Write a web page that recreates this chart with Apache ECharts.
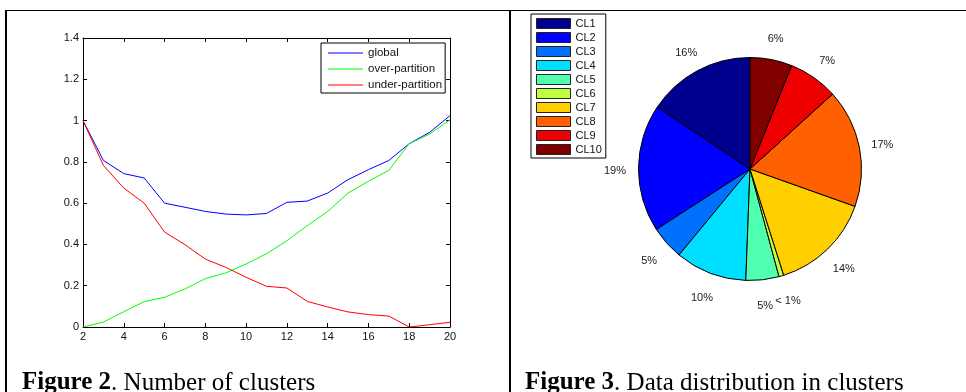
<!DOCTYPE html>
<html>
<head>
<meta charset="utf-8">
<script src="https://cdn.jsdelivr.net/npm/echarts@6/dist/echarts.min.js"></script>
<style>
  html, body { margin: 0; padding: 0; background: #fff; }
  #chart { width: 966px; height: 392px; }
</style>
</head>
<body>
<div id="chart"></div>
<script>
// ---- Figure 2 data ----
const clusterCounts = [2, 3, 4, 5, 6, 7, 8, 9, 10, 11, 12, 13, 14, 15, 16, 17, 18, 19, 20];
const globalValues = [1.0, 0.807, 0.743, 0.722, 0.60, 0.58, 0.56, 0.547, 0.543, 0.55, 0.604, 0.61, 0.649, 0.714, 0.762, 0.807, 0.888, 0.943, 1.024];
const overValues   = [0.0, 0.024, 0.074, 0.123, 0.144, 0.184, 0.234, 0.262, 0.305, 0.355, 0.418, 0.491, 0.56, 0.649, 0.706, 0.759, 0.888, 0.935, 1.004];
const underValues  = [1.0, 0.783, 0.673, 0.60, 0.46, 0.399, 0.329, 0.289, 0.241, 0.197, 0.189, 0.124, 0.097, 0.073, 0.06, 0.053, 0.0, 0.011, 0.023];
const lineNames = ['global', 'over-partition', 'under-partition'];
const lineColors = ['#0000FF', '#00FF00', '#FF0000'];

// ---- Figure 3 data ----
const clusterNames = ['CL1', 'CL2', 'CL3', 'CL4', 'CL5', 'CL6', 'CL7', 'CL8', 'CL9', 'CL10'];
const clusterShares = [15.7, 18.5, 4.9, 10.4, 4.8, 0.7, 14.7, 17.2, 7.2, 6.1];
const clusterLabels = ['16%', '19%', '5%', '10%', '5%', '< 1%', '14%', '17%', '7%', '6%'];
const clusterColors = ['#00008F', '#0000FF', '#0070FF', '#00DFFF', '#50FFAF', '#BFFF40', '#FFCF00', '#FF6000', '#EF0000', '#800000'];

const SANS = '"Liberation Sans", Arial, Helvetica, sans-serif';
const SERIF = '"Liberation Serif", "Times New Roman", serif';

const chart = echarts.init(document.getElementById('chart'), null, { renderer: 'canvas' });

function pairs(xs, ys) { return xs.map((x, i) => [x, ys[i]]); }

const axisLineStyle = { color: '#000', width: 1 };
const axisLabelStyle = { color: '#111', fontSize: 11, fontFamily: SANS };

const pieData = clusterNames.map((n, i) => ({ name: n, value: clusterShares[i], itemStyle: { color: clusterColors[i] } }));
const pieLabelData = clusterNames.map((n, i) => ({ name: n, value: clusterShares[i], label: { formatter: clusterLabels[i] } }));
const lineLegendData = lineNames.map((n, i) => ({ name: n, icon: 'rect', itemStyle: { color: lineColors[i], borderWidth: 0 } }));

const lineSeries = [globalValues, overValues, underValues].map((vals, i) => ({
  name: lineNames[i], type: 'line', xAxisIndex: 0, yAxisIndex: 0, data: pairs(clusterCounts, vals),
  symbol: 'none', showSymbol: false,
  lineStyle: { color: lineColors[i], width: 1 }, itemStyle: { color: lineColors[i] },
  emphasis: { disabled: true }
}));

const option = {
  animation: false,
  backgroundColor: '#fff',
  grid: [{ left: 83, top: 38, width: 367, height: 289, containLabel: false }],
  xAxis: [
    {
      type: 'value', gridIndex: 0, min: 2, max: 20, interval: 2, position: 'bottom',
      axisLine: { show: true, onZero: false, lineStyle: axisLineStyle },
      axisTick: { show: true, inside: true, length: 4, lineStyle: axisLineStyle },
      axisLabel: Object.assign({ margin: 4 }, axisLabelStyle),
      splitLine: { show: false }
    },
    {
      type: 'value', gridIndex: 0, min: 2, max: 20, interval: 2, position: 'top',
      axisLine: { show: true, onZero: false, lineStyle: axisLineStyle },
      axisTick: { show: true, inside: true, length: 4, lineStyle: axisLineStyle },
      axisLabel: { show: false },
      splitLine: { show: false }
    }
  ],
  yAxis: [
    {
      type: 'value', gridIndex: 0, min: 0, max: 1.4, interval: 0.2, position: 'left',
      axisLine: { show: true, onZero: false, lineStyle: axisLineStyle },
      axisTick: { show: true, inside: true, length: 4, lineStyle: axisLineStyle },
      axisLabel: Object.assign({ margin: 4 }, axisLabelStyle),
      splitLine: { show: false }
    },
    {
      type: 'value', gridIndex: 0, min: 0, max: 1.4, interval: 0.2, position: 'right',
      axisLine: { show: true, onZero: false, lineStyle: axisLineStyle },
      axisTick: { show: true, inside: true, length: 4, lineStyle: axisLineStyle },
      axisLabel: { show: false },
      splitLine: { show: false }
    }
  ],
  legend: [
    {
      data: lineLegendData,
      orient: 'vertical',
      left: 321, top: 43,
      padding: [4, 3, 2, 7],
      backgroundColor: '#fff',
      borderColor: '#000', borderWidth: 1,
      itemWidth: 35, itemHeight: 1, itemGap: 4,
      textStyle: { fontSize: 11.5, lineHeight: 12, color: '#111', fontFamily: SANS },
      selectedMode: false
    },
    {
      data: clusterNames,
      orient: 'vertical',
      left: 531, top: 14,
      padding: [4, 4, 3, 5],
      backgroundColor: '#fff',
      borderColor: '#000', borderWidth: 1,
      icon: 'rect',
      itemWidth: 34, itemHeight: 10, itemGap: 3,
      itemStyle: { borderColor: '#222', borderWidth: 1 },
      textStyle: { fontSize: 11, lineHeight: 10, color: '#111', fontFamily: SANS },
      selectedMode: false
    }
  ],
  series: lineSeries.concat([
    {
      name: 'distribution', type: 'pie',
      center: [750, 169], radius: [0, 111.5],
      startAngle: 90, clockwise: false,
      minAngle: 0, avoidLabelOverlap: false,
      data: pieData,
      itemStyle: { borderColor: '#000', borderWidth: 1 },
      label: { show: false }, labelLine: { show: false },
      emphasis: { disabled: true }
    },
    {
      name: 'distribution-labels', type: 'pie',
      center: [750, 171.5], radius: [128, 136],
      startAngle: 90, clockwise: false,
      minAngle: 0, avoidLabelOverlap: false,
      silent: true,
      data: pieLabelData,
      itemStyle: { color: 'rgba(0,0,0,0)', borderWidth: 0 },
      label: { show: true, position: 'inside', color: '#222', fontSize: 11, fontFamily: SANS, rotate: 0 },
      labelLine: { show: false },
      emphasis: { disabled: true }
    }
  ]),
  graphic: [
    { type: 'line', shape: { x1: 6, y1: 10.5, x2: 966, y2: 10.5 }, style: { stroke: '#000', lineWidth: 1 } },
    { type: 'line', shape: { x1: 6, y1: 10, x2: 6, y2: 392 }, style: { stroke: '#000', lineWidth: 2 } },
    { type: 'line', shape: { x1: 510, y1: 10, x2: 510, y2: 392 }, style: { stroke: '#000', lineWidth: 2 } },
    {
      type: 'text', x: 22, y: 383,
      style: {
        text: '{b|Figure 2}. Number of clusters',
        font: '25px ' + SERIF, fill: '#000', verticalAlign: 'middle',
        rich: { b: { fontWeight: 'bold', fontSize: 25, fontFamily: SERIF, fill: '#000' } }
      }
    },
    {
      type: 'text', x: 525, y: 383,
      style: {
        text: '{b|Figure 3}. Data distribution in clusters',
        font: '25px ' + SERIF, fill: '#000', verticalAlign: 'middle',
        rich: { b: { fontWeight: 'bold', fontSize: 25, fontFamily: SERIF, fill: '#000' } }
      }
    }
  ]
};

chart.setOption(option);
</script>
</body>
</html>
